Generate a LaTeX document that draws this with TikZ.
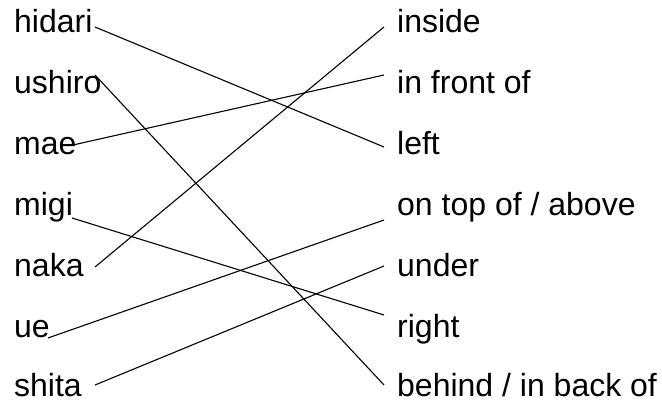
\documentclass[tikz,border=0pt]{standalone}
\usepackage{fontspec}
\setmainfont{Liberation Sans}
\begin{document}
\begin{tikzpicture}[x=1pt,y=1pt,
  lbl/.style={anchor=base west,inner sep=0pt,font=\fontsize{32}{38}\selectfont},
  link/.style={line width=1.1pt,black}]
\useasboundingbox (0,0) rectangle (662,404);
% left words
\node[lbl] (hidari) at (14,371) {hidari};
\node[lbl] (ushiro) at (14,310) {ushiro};
\node[lbl] (mae)    at (14,249) {mae};
\node[lbl] (migi)   at (14,188) {migi};
\node[lbl] (naka)   at (14,127) {naka};
\node[lbl] (ue)     at (14,66)  {ue};
\node[lbl] (shita)  at (14,7)   {shita};
% right words
\node[lbl] (inside) at (397,371) {inside};
\node[lbl] (front)  at (397,310) {in front of};
\node[lbl] (left)   at (397,249) {left};
\node[lbl] (ontop)  at (397,188) {on top of / above};
\node[lbl] (under)  at (397,127) {under};
\node[lbl] (right)  at (397,66)  {right};
\node[lbl] (behind) at (397,7)   {behind / in back of};
% connector ends
\coordinate (hidariE) at (95,377);
\coordinate (ushiroE) at (95,329);
\coordinate (maeE)    at (73,259);
\coordinate (migiE)   at (72,186);
\coordinate (nakaE)   at (95,137);
\coordinate (ueE)     at (48,66);
\coordinate (shitaE)  at (95,19);
\coordinate (insideE) at (384,377);
\coordinate (frontE)  at (384,329);
\coordinate (leftE)   at (384,257);
\coordinate (ontopE)  at (384,184);
\coordinate (underE)  at (384,138);
\coordinate (rightE)  at (384,89);
\coordinate (behindE) at (384,19);
% connectors
\draw[link] (hidariE) -- (leftE);
\draw[link] (ushiroE) -- (behindE);
\draw[link] (maeE) -- (frontE);
\draw[link] (migiE) -- (rightE);
\draw[link] (nakaE) -- (insideE);
\draw[link] (ueE) -- (ontopE);
\draw[link] (shitaE) -- (underE);
\end{tikzpicture}
\end{document}
